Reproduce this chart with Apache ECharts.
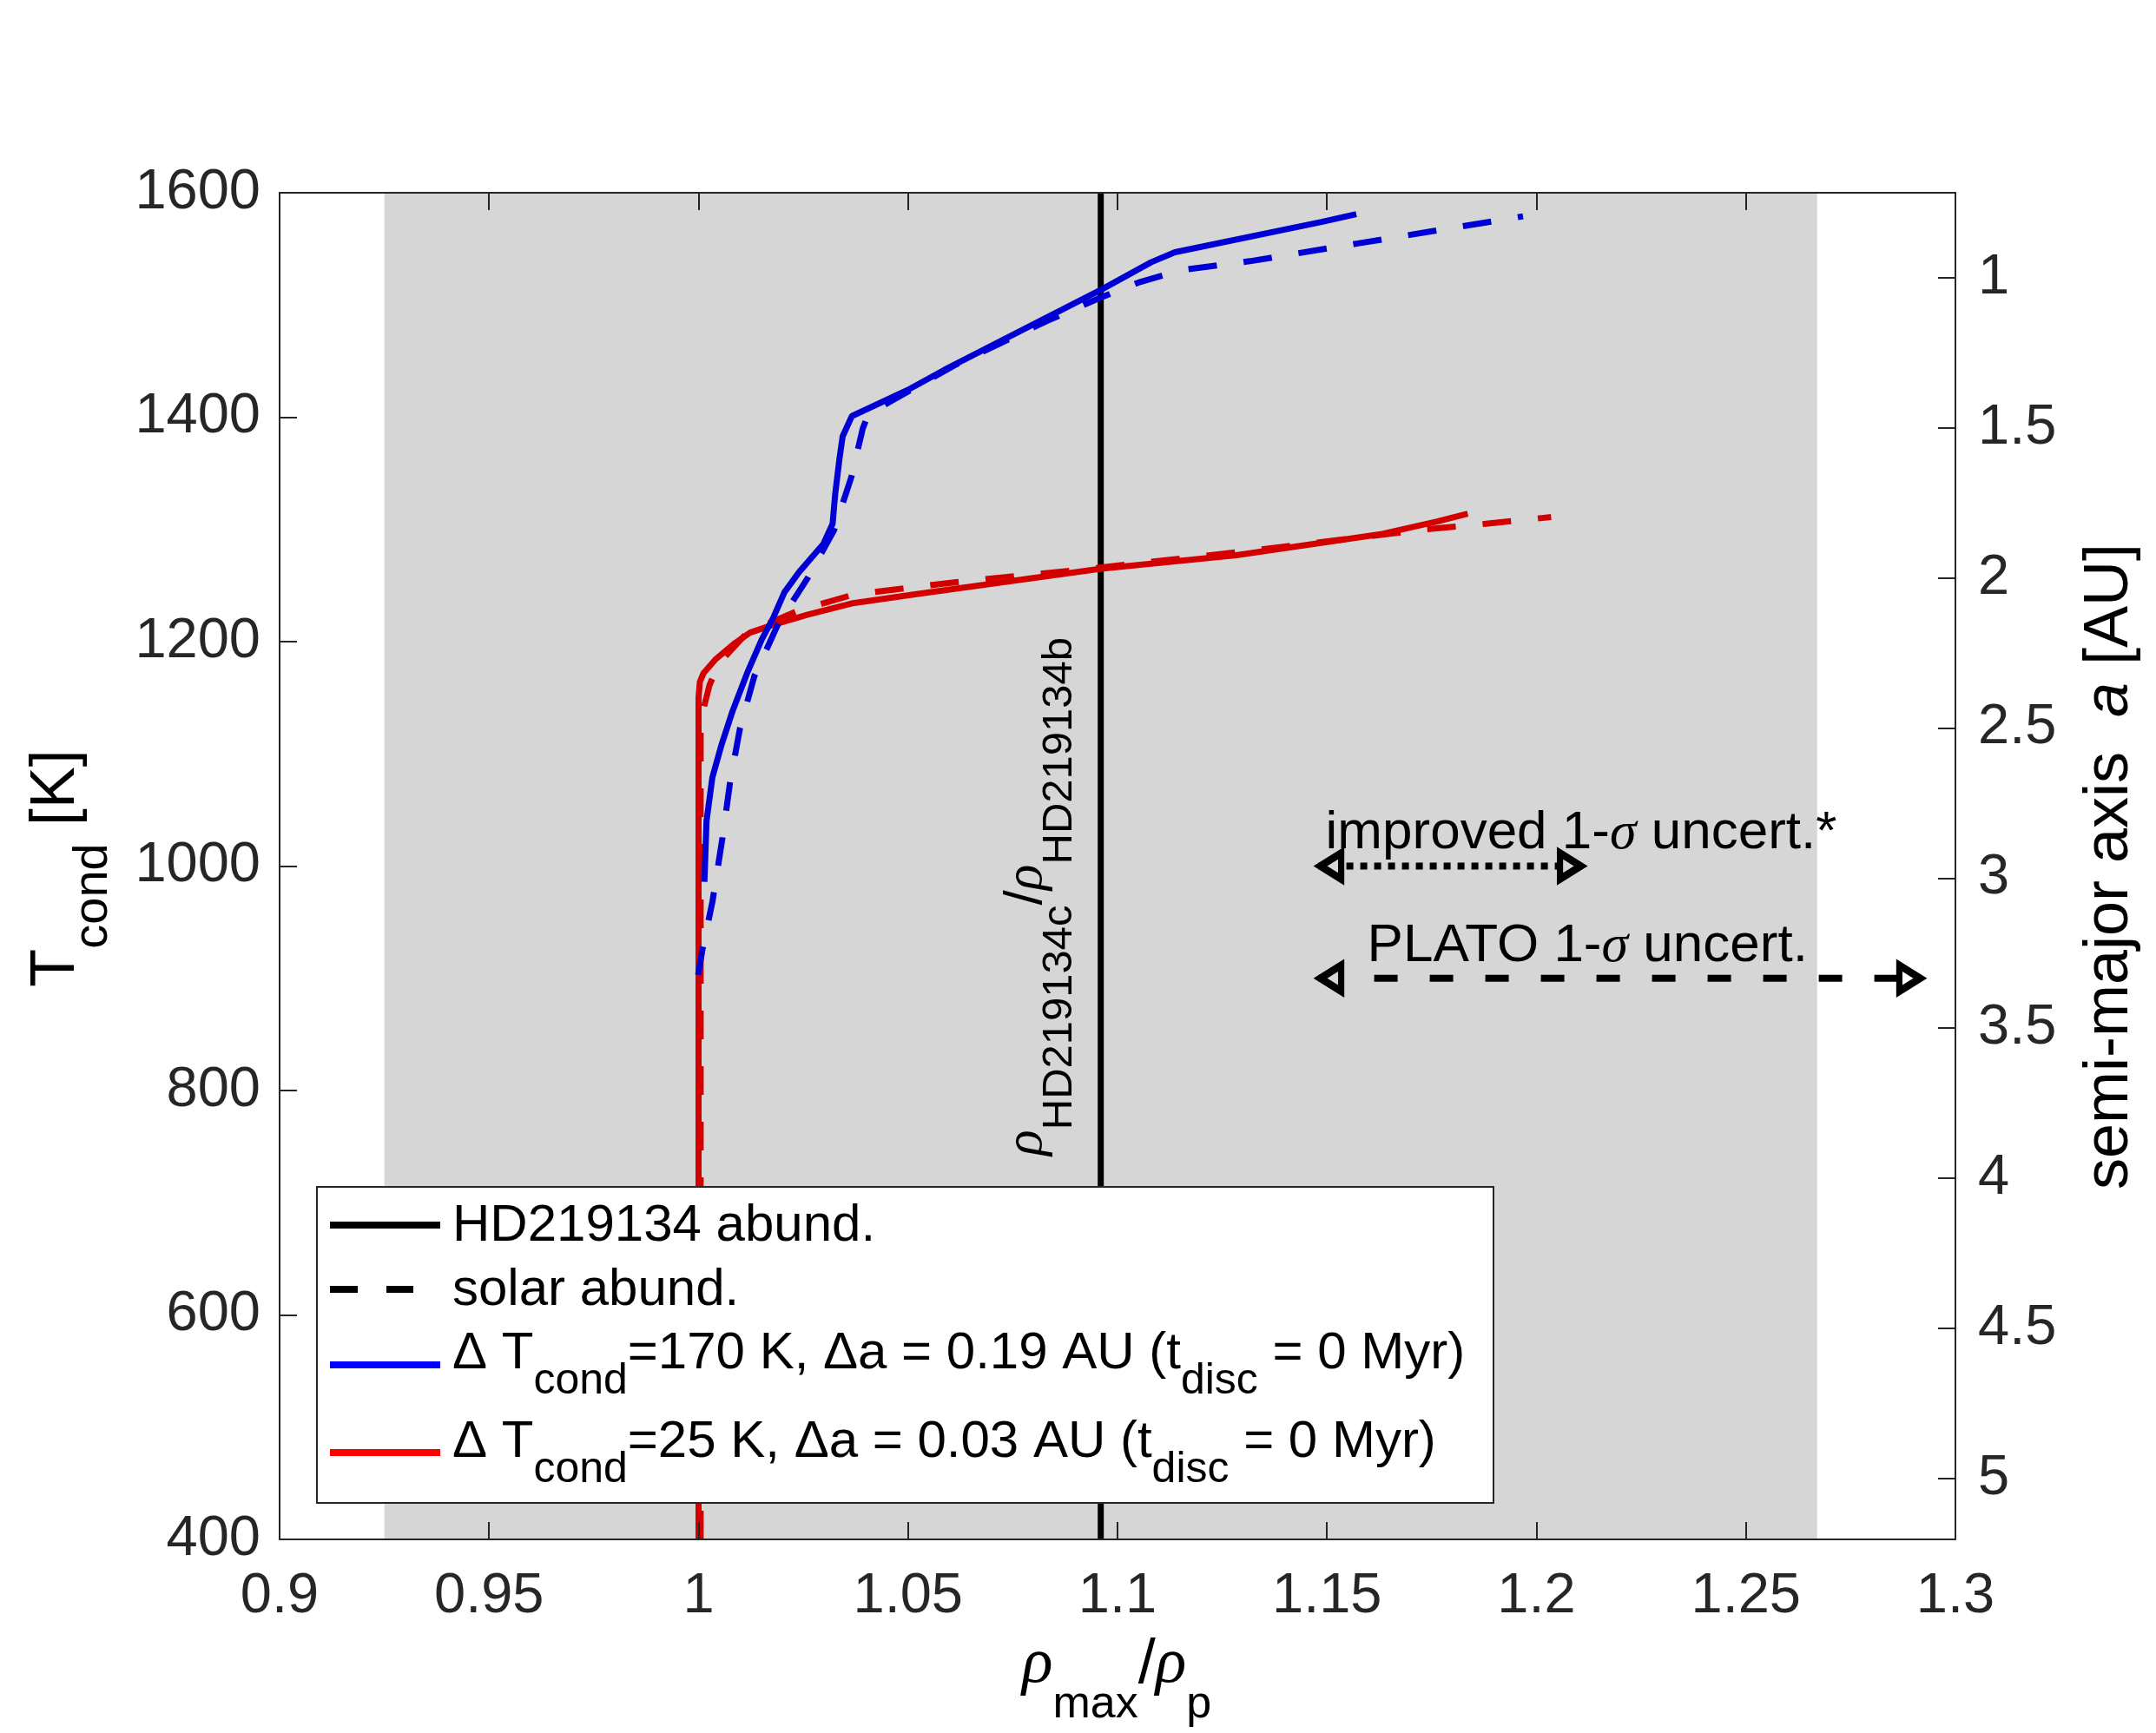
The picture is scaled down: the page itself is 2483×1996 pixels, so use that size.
<!DOCTYPE html>
<html lang="en">
<head>
  <meta charset="UTF-8">
  <title>T_cond vs density ratio</title>
  <script src="https://cdn.jsdelivr.net/npm/echarts@6.0.0/dist/echarts.min.js"></script>
  <style>
    html, body { margin: 0; padding: 0; background: #fff; }
    #chart { width: 2483px; height: 1996px; }
  </style>
</head>
<body>
  <div id="chart"></div>
  <script>
    // ---- data: [rho_max/rho_p, T_cond] ----
    // HD219134 abundances, dT_cond = 170 K
    const blueSolid = [
      [1.0014, 986], [1.0019, 1040], [1.0033, 1079], [1.0054, 1107], [1.0081, 1138],
      [1.0116, 1172], [1.0151, 1202], [1.0178, 1221], [1.0205, 1244], [1.024, 1262],
      [1.0298, 1287], [1.032, 1305], [1.0326, 1331], [1.0336, 1362], [1.0344, 1383],
      [1.0366, 1401], [1.0498, 1424], [1.0586, 1442], [1.0963, 1514], [1.108, 1538],
      [1.1137, 1547], [1.1487, 1574], [1.157, 1581]
    ];
    // solar abundances, dT_cond = 170 K
    const blueDashed = [
      [0.9999, 903], [1.0009, 925], [1.0033, 968], [1.0057, 1025], [1.0075, 1074],
      [1.0099, 1123], [1.0133, 1169], [1.0189, 1215], [1.0261, 1257], [1.0323, 1299],
      [1.0365, 1347], [1.0392, 1390], [1.0406, 1403], [1.0615, 1447], [1.0833, 1486],
      [1.0956, 1506], [1.105, 1520], [1.1152, 1531], [1.1316, 1539], [1.1577, 1555],
      [1.1968, 1579]
    ];
    // HD219134 abundances, dT_cond = 25 K
    const redSolid = [
      [1.0, 400], [1.0, 1150], [1.0003, 1164], [1.0012, 1172], [1.004, 1184],
      [1.0088, 1199], [1.0123, 1208], [1.0178, 1215], [1.0261, 1224], [1.0365, 1234],
      [1.0513, 1242], [1.0961, 1265], [1.1283, 1277], [1.1632, 1296], [1.1763, 1307],
      [1.1836, 1314]
    ];
    // solar abundances, dT_cond = 25 K
    const redDashed = [
      [1.0005, 400], [1.0005, 1130], [1.0026, 1161], [1.0047, 1180], [1.0116, 1208],
      [1.024, 1228], [1.0371, 1242], [1.0503, 1248], [1.0615, 1253], [1.0934, 1265],
      [1.134, 1282], [1.1734, 1300], [1.1879, 1305], [1.2035, 1311]
    ];
    const ratioCB = 1.096;               // rho_HD219134c / rho_HD219134b
    const shadeRange = [0.925, 1.267];   // grey band
    const improvedArrow = [[1.148, 1000], [1.211, 1000]];
    const platoArrow = [[1.148, 900], [1.292, 900]];
    const aTicks = [1, 1.5, 2, 2.5, 3, 3.5, 4, 4.5, 5];
    const aRange = [0.717, 5.203];

    const BLUE = '#0000d4', RED = '#d40000', GREY = '#d6d6d6', AX = '#262626';
    const SANS = '"Liberation Sans", Arial, sans-serif';
    const DASH = [33, 31];

    const chart = echarts.init(document.getElementById('chart'));

    const axisCommon = {
      axisLine: { show: true, lineStyle: { color: AX, width: 2 } },
      axisTick: { show: true, inside: true, length: 20, lineStyle: { color: AX, width: 2 } },
      splitLine: { show: false },
      z: 6
    };
    const labelCommon = { color: AX, fontSize: 65, fontFamily: SANS };

    function curve(data, color, dashed) {
      return {
        type: 'line', data: data, symbol: 'none', z: 3,
        lineStyle: { color: color, width: 7, type: dashed ? DASH : 'solid', cap: 'butt' }
      };
    }

    function arrow(data, dash, rightFill) {
      return {
        type: 'line', z: 4, symbolSize: [30, 24], showSymbol: true,
        lineStyle: { color: '#000', width: 8, type: dash, cap: 'butt' },
        data: data.map((p, i) => ({
          value: p,
          symbol: 'triangle',
          symbolRotate: i ? -90 : 90,
          symbolOffset: [i ? -14 : 14, 0],
          itemStyle: { color: i ? rightFill : GREY, borderColor: '#000', borderWidth: 8 }
        }))
      };
    }

    chart.setOption({
      animation: false,
      backgroundColor: '#fff',
      grid: { left: 322, right: 231, top: 222, bottom: 223 },
      xAxis: [
        Object.assign({
          type: 'value', position: 'bottom', min: 0.9, max: 1.3, interval: 0.05,
          axisLabel: Object.assign({ margin: 34, formatter: v => String(+v.toFixed(3)) }, labelCommon)
        }, axisCommon),
        Object.assign({
          type: 'value', position: 'top', min: 0.9, max: 1.3, interval: 0.05,
          axisLabel: { show: false }
        }, axisCommon)
      ],
      yAxis: [
        Object.assign({
          type: 'value', position: 'left', min: 400, max: 1600, interval: 200,
          axisLabel: Object.assign({ margin: 22, formatter: v => String(v) }, labelCommon)
        }, axisCommon),
        Object.assign({
          type: 'value', position: 'right', min: aRange[0], max: aRange[1], inverse: true,
          axisTick: { show: true, inside: true, length: 20, customValues: aTicks, lineStyle: { color: AX, width: 2 } },
          axisLabel: Object.assign({ margin: 26, customValues: aTicks, formatter: v => String(v) }, labelCommon)
        }, {
          axisLine: axisCommon.axisLine, splitLine: axisCommon.splitLine, z: 6
        })
      ],
      series: [
        {
          type: 'line', data: [], z: 1, silent: true,
          markArea: {
            silent: true,
            itemStyle: { color: GREY, opacity: 1 },
            data: [[{ xAxis: shadeRange[0] }, { xAxis: shadeRange[1] }]]
          }
        },
        {
          type: 'line', symbol: 'none', z: 3,
          data: [[ratioCB, 400], [ratioCB, 1600]],
          lineStyle: { color: '#000', width: 7 }
        },
        curve(redSolid, RED, false),
        curve(redDashed, RED, true),
        curve(blueSolid, BLUE, false),
        curve(blueDashed, BLUE, true),
        arrow(improvedArrow, [8, 8], GREY),
        arrow(platoArrow, [27, 37], '#fff')
      ]
    });

    // ---- text runs with sub/superscripts, laid out by measured widths ----
    const mctx = document.createElement('canvas').getContext('2d');
    function fontOf(p) {
      return (p.it ? 'italic ' : '') + p.s + 'px ' + (p.serif ? '"Liberation Serif"' : '"Liberation Sans"');
    }
    function run(parts, x, y, opts) {
      opts = opts || {};
      let cx = 0;
      const kids = [];
      parts.forEach(p => {
        const font = fontOf(p);
        mctx.font = font;
        kids.push({
          type: 'text', z: 120, x: cx, y: (p.dy || 0) - (p.serif ? 0.34 : 0.35) * p.s,
          style: {
            text: p.t, font: font, fill: opts.fill || '#000',
            align: 'left', textAlign: 'left', verticalAlign: 'middle', textVerticalAlign: 'middle'
          }
        });
        cx += mctx.measureText(p.t).width;
      });
      if (opts.center) kids.forEach(k => { k.x -= cx / 2; });
      return { type: 'group', x: x, y: y, rotation: opts.rot || 0, children: kids, z: 120 };
    }

    const px = p => chart.convertToPixel({ xAxisIndex: 0, yAxisIndex: 0 }, p);
    const lineX = px([ratioCB, 1000])[0];
    const imp = px(improvedArrow[0]);
    const pla = px(platoArrow[0]);

    const legendRows = [
      { y: 1411, base: 1433, color: '#000', dash: null, parts: [{ t: 'HD219134 abund.', s: 60 }] },
      { y: 1485, base: 1507, color: '#000', dash: [32, 33], parts: [{ t: 'solar abund.', s: 60 }] },
      { y: 1572, base: 1580, color: '#0000ff', dash: null, parts: [
        { t: 'Δ T', s: 60 }, { t: 'cond', s: 50, dy: 29 }, { t: '=170 K, Δa = 0.19 AU (t', s: 60 },
        { t: 'disc', s: 50, dy: 29 }, { t: ' = 0 Myr)', s: 60 }] },
      { y: 1673, base: 1682, color: '#ff0000', dash: null, parts: [
        { t: 'Δ T', s: 60 }, { t: 'cond', s: 50, dy: 29 }, { t: '=25 K, Δa = 0.03 AU (t', s: 60 },
        { t: 'disc', s: 50, dy: 29 }, { t: ' = 0 Myr)', s: 60 }] }
    ];

    const graphic = [
      {
        type: 'rect', z: 100,
        shape: { x: 365, y: 1367, width: 1355, height: 364 },
        style: { fill: '#fff', stroke: AX, lineWidth: 2 }
      }
    ];
    legendRows.forEach(r => {
      graphic.push({
        type: 'line', z: 110,
        shape: { x1: 380, y1: r.y, x2: r.dash ? 476 : 507, y2: r.y },
        style: { stroke: r.color, lineWidth: 8, lineDash: r.dash || null }
      });
      graphic.push(run(r.parts, 521, r.base));
    });

    // axis titles
    graphic.push(run([{ t: 'T', s: 72 }, { t: 'cond', s: 56, dy: 37 }, { t: ' [K]', s: 72 }],
      90, 1000, { rot: Math.PI / 2, center: true }));
    graphic.push(run([{ t: 'semi-major axis  ', s: 72 }, { t: 'a', s: 72, it: true }, { t: ' [AU]', s: 72 }],
      2455, 998, { rot: Math.PI / 2, center: true }));
    graphic.push(run([{ t: 'ρ', s: 74, it: true, serif: true }, { t: 'max', s: 52, dy: 39 },
      { t: '/', s: 72 }, { t: 'ρ', s: 74, it: true, serif: true }, { t: 'p', s: 52, dy: 39 }],
      1286, 1943, { center: true }));

    // label along the density-ratio line
    graphic.push(run([{ t: 'ρ', s: 62, it: true, serif: true }, { t: 'HD219134c', s: 49, dy: 34 },
      { t: '/', s: 62 }, { t: 'ρ', s: 62, it: true, serif: true }, { t: 'HD219134b', s: 49, dy: 34 }],
      lineX - 64, 1331, { rot: Math.PI / 2 }));

    // arrow captions
    graphic.push(run([{ t: 'improved 1-', s: 62 }, { t: 'σ', s: 62, it: true, serif: true }, { t: ' uncert.*', s: 62 }],
      imp[0] + 8, imp[1] - 16));
    graphic.push(run([{ t: 'PLATO 1-', s: 62 }, { t: 'σ', s: 62, it: true, serif: true }, { t: ' uncert.', s: 62 }],
      pla[0] + 56, pla[1] - 15));

    chart.setOption({ graphic: graphic });
  </script>
</body>
</html>
